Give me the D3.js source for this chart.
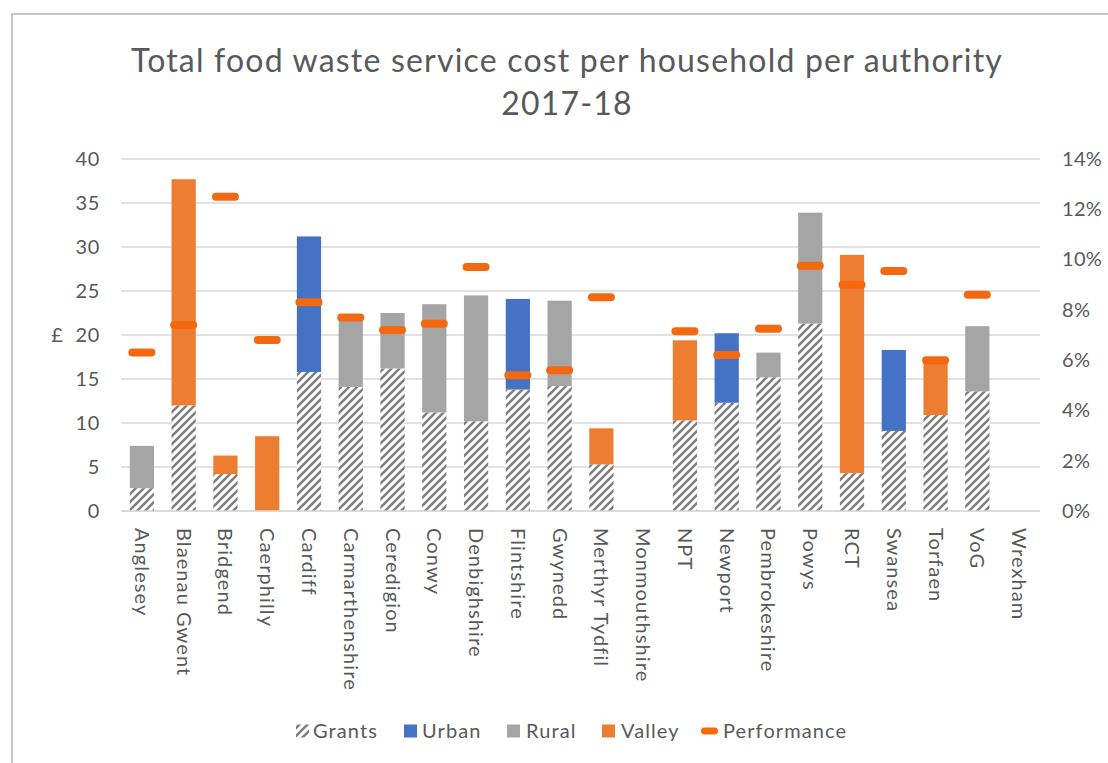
<!DOCTYPE html>
<html>
<head>
<meta charset="utf-8">
<script src="https://cdn.jsdelivr.net/npm/d3@7"></script>
<style>
  html, body { margin: 0; padding: 0; background: #fff; }
  svg { display: block; font-family: Lato, "Open Sans", sans-serif; }
</style>
</head>
<body>
<svg id="chart" width="1108" height="763"></svg>
<script>
// Local authorities
const categories = ["Anglesey", "Blaenau Gwent", "Bridgend", "Caerphilly", "Cardiff", "Carmarthenshire",
  "Ceredigion", "Conwy", "Denbighshire", "Flintshire", "Gwynedd", "Merthyr Tydfil", "Monmouthshire",
  "NPT", "Newport", "Pembrokeshire", "Powys", "RCT", "Swansea", "Torfaen", "VoG", "Wrexham"];

// Cost per household (£), stacked
const grants = [2.6, 12.0, 4.2, 0, 15.8, 14.1, 16.2, 11.2, 10.2, 13.8, 14.2, 5.3, 0, 10.3, 12.3, 15.2, 21.3, 4.3, 9.1, 10.9, 13.6, 0];
const urban  = [0, 0, 0, 0, 15.4, 0, 0, 0, 0, 10.3, 0, 0, 0, 0, 7.9, 0, 0, 0, 9.2, 0, 0, 0];
const rural  = [4.8, 0, 0, 0, 0, 7.9, 6.3, 12.3, 14.3, 0, 9.7, 0, 0, 0, 0, 2.8, 12.6, 0, 0, 0, 7.4, 0];
const valley = [0, 25.7, 2.1, 8.5, 0, 0, 0, 0, 0, 0, 0, 4.1, 0, 9.1, 0, 0, 0, 24.8, 0, 6.0, 0, 0];

// Performance (%, right axis)
const performance = [6.3, 7.4, 12.5, 6.8, 8.3, 7.7, 7.2, 7.45, 9.7, 5.4, 5.6, 8.5, null, 7.15, 6.2, 7.25, 9.75, 9.0, 9.55, 6.0, 8.6, null];

const leftTicks = [0, 5, 10, 15, 20, 25, 30, 35, 40];
const rightTicks = [0, 2, 4, 6, 8, 10, 12, 14];

const seriesKeys = ["Grants", "Urban", "Rural", "Valley"];
const seriesValues = { Grants: grants, Urban: urban, Rural: rural, Valley: valley };
const colors = { Urban: "#4472C4", Rural: "#A5A5A5", Valley: "#ED7D31", Performance: "#F4680F" };
const textColor = "#595959";
const fontFamily = "Lato, 'Open Sans', sans-serif";

const svg = d3.select("#chart");
const margin = { left: 121, right: 1040, top: 159, bottom: 511 };

// Outer frame (top and left edges visible)
svg.append("path")
  .attr("d", "M12,763 L12,14 L1108,14")
  .attr("fill", "none").attr("stroke", "#C6C6C6").attr("stroke-width", 2);

// Hatch for grants
const defs = svg.append("defs");
const pat = defs.append("pattern")
  .attr("id", "hatch").attr("patternUnits", "userSpaceOnUse")
  .attr("width", 8).attr("height", 8);
pat.append("rect").attr("width", 8).attr("height", 8).attr("fill", "#fff");
pat.append("path")
  .attr("d", "M-2,2 L2,-2 M0,8 L8,0 M6,10 L10,6")
  .attr("stroke", "#7F7F7F").attr("stroke-width", 2.6);

const x = d3.scaleBand().domain(categories).range([margin.left, margin.right]).paddingInner(0.42).paddingOuter(0.21);
const y = d3.scaleLinear().domain([0, 40]).range([margin.bottom, margin.top]);
const y2 = d3.scaleLinear().domain([0, 14]).range([margin.bottom, margin.top]);

// Gridlines
svg.append("g").selectAll("line").data(leftTicks).join("line")
  .attr("x1", margin.left).attr("x2", margin.right)
  .attr("y1", d => y(d)).attr("y2", d => y(d))
  .attr("stroke", "#D9D9D9").attr("stroke-width", 1.5);

// Left axis
const leftAxis = svg.append("g").attr("transform", `translate(${margin.left},0)`)
  .call(d3.axisLeft(y).tickValues(leftTicks).tickSize(0).tickPadding(21));
leftAxis.select(".domain").remove();
leftAxis.selectAll("text").attr("fill", textColor).attr("font-size", 20)
  .attr("font-family", fontFamily).attr("letter-spacing", 0.6);

// Right axis
const rightAxis = svg.append("g").attr("transform", `translate(${margin.right},0)`)
  .call(d3.axisRight(y2).tickValues(rightTicks).tickSize(0).tickPadding(22).tickFormat(d => d + "%"));
rightAxis.select(".domain").remove();
rightAxis.selectAll("text").attr("fill", textColor).attr("font-size", 20)
  .attr("font-family", fontFamily).attr("letter-spacing", 0.3);

// Left axis title
svg.append("text").attr("x", 57).attr("y", y(20)).attr("dy", "0.35em")
  .attr("text-anchor", "middle").attr("fill", textColor).attr("font-size", 20).text("£");

// Stacked bars
const rows = categories.map((c, i) => {
  const r = { category: c };
  seriesKeys.forEach(k => r[k] = seriesValues[k][i]);
  return r;
});
const stacked = d3.stack().keys(seriesKeys)(rows);
svg.append("g").selectAll("g").data(stacked).join("g")
  .attr("fill", d => d.key === "Grants" ? "url(#hatch)" : colors[d.key])
  .selectAll("rect").data(d => d.filter(s => s[1] - s[0] > 0)).join("rect")
  .attr("x", d => x(d.data.category))
  .attr("width", x.bandwidth())
  .attr("y", d => y(d[1]))
  .attr("height", d => y(d[0]) - y(d[1]));

// Category axis
const bottomAxis = svg.append("g").attr("transform", `translate(0,${margin.bottom})`)
  .call(d3.axisBottom(x).tickSize(0).tickPadding(0));
bottomAxis.select(".domain").remove();
svg.append("line").attr("x1", margin.left).attr("x2", margin.right)
  .attr("y1", margin.bottom).attr("y2", margin.bottom)
  .attr("stroke", "#D9D9D9").attr("stroke-width", 1.5);
bottomAxis.selectAll("text")
  .attr("fill", textColor).attr("font-size", 20).attr("font-family", fontFamily)
  .attr("letter-spacing", 1.1)
  .attr("text-anchor", "start")
  .attr("transform", "rotate(90)")
  .attr("x", 17).attr("y", 0).attr("dy", "0.35em");

// Performance markers
const mw = 27, mh = 8;
svg.append("g").selectAll("rect")
  .data(categories.map((c, i) => ({ c, v: performance[i] })).filter(d => d.v != null))
  .join("rect")
  .attr("x", d => x(d.c) + x.bandwidth() / 2 - mw / 2)
  .attr("y", d => y2(d.v) - mh / 2)
  .attr("width", mw).attr("height", mh)
  .attr("rx", 4).attr("ry", 4)
  .attr("fill", colors.Performance);

// Title
const title = svg.append("text").attr("text-anchor", "middle").attr("fill", textColor)
  .attr("font-size", 32).attr("font-family", fontFamily).attr("letter-spacing", 1.2);
title.append("tspan").attr("x", 567).attr("y", 72).text("Total food waste service cost per household per authority");
title.append("tspan").attr("x", 567).attr("y", 115).text("2017-18");

// Legend
const legend = svg.append("g").attr("font-size", 20).attr("fill", textColor)
  .attr("font-family", fontFamily).attr("letter-spacing", 1.1);
const ly = 731;
legend.append("rect").attr("x", 296).attr("y", ly - 6.5).attr("width", 13).attr("height", 13).attr("fill", "url(#hatch)");
legend.append("text").attr("x", 313).attr("y", ly).attr("dy", "0.35em").text("Grants");
[["Urban", 404, 422], ["Rural", 507, 526], ["Valley", 602, 621]].forEach(([k, sx, tx]) => {
  legend.append("rect").attr("x", sx).attr("y", ly - 6.5).attr("width", 13).attr("height", 13).attr("fill", colors[k]);
  legend.append("text").attr("x", tx).attr("y", ly).attr("dy", "0.35em").text(k);
});
legend.append("rect").attr("x", 701).attr("y", ly - 3.5).attr("width", 17).attr("height", 7).attr("rx", 3.5).attr("fill", colors.Performance);
legend.append("text").attr("x", 723).attr("y", ly).attr("dy", "0.35em").text("Performance");
</script>
</body>
</html>
